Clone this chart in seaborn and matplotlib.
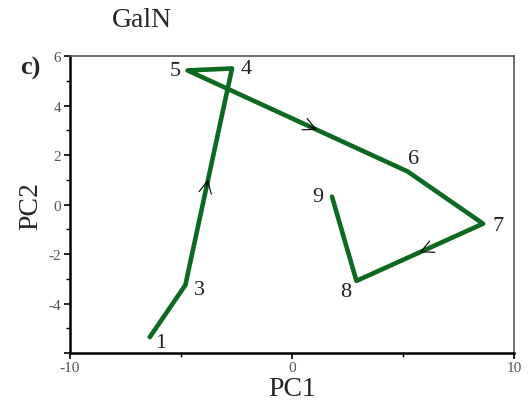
import matplotlib
matplotlib.use("Agg")
import matplotlib.pyplot as plt
import seaborn as sns
import pandas as pd
import numpy as np

labels = ["1", "3", "4", "5", "6", "7", "8", "9"]
pc1 = [-6.4, -4.8, -2.7, -4.7, 5.2, 8.6, 2.9, 1.8]
pc2 = [-5.35, -3.25, 5.5, 5.42, 1.34, -0.77, -3.08, 0.32]
label_offsets = [(8, -4), (10, -3), (10, 0), (-9, 0), (4, 9), (11, -1), (-8, -8), (-10, 0)]
arrow_segments = [(1, 0.5), (3, 0.6), (5, 0.52)]  # (start index, fraction)
xticks = [-10, 0, 10]
xtick_labels = ["-10", "0", "10"]
yticks = [-6, -4, -2, 0, 2, 4, 6]
ytick_labels = ["", "-4", "-2", "0", "2", "4", "6"]

sns.set_style("ticks")
plt.rcParams["font.family"] = ["Liberation Serif", "DejaVu Serif"]

df = pd.DataFrame({"PC1": pc1, "PC2": pc2, "label": labels})

fig = plt.figure(figsize=(5.29, 4.02), dpi=100)
ax = fig.add_axes([0.132, 0.119, 0.84, 0.739])

green = "#0b6a1f"
sns.lineplot(data=df, x="PC1", y="PC2", sort=False, estimator=None,
             color=green, linewidth=3.3, ax=ax)

for lab, x, y, off in zip(labels, pc1, pc2, label_offsets):
    ax.annotate(lab, (x, y), xytext=off, textcoords="offset points",
                ha="center", va="center", fontsize=16, color="#222222")

for i, f in arrow_segments:
    x0, y0 = pc1[i], pc2[i]
    x1, y1 = pc1[i + 1], pc2[i + 1]
    xm, ym = x0 + f * (x1 - x0), y0 + f * (y1 - y0)
    xs, ys = x0 + (f - 0.06) * (x1 - x0), y0 + (f - 0.06) * (y1 - y0)
    ax.annotate("", xy=(xm, ym), xytext=(xs, ys),
                arrowprops=dict(arrowstyle="->,head_length=0.9,head_width=0.45",
                                color="black", lw=0.8))

ax.set_xlim(-10, 10)
ax.set_ylim(-6, 6)
ax.set_xticks(xticks)
ax.set_xticklabels(xtick_labels)
ax.set_yticks(yticks)
ax.set_yticklabels(ytick_labels)
ax.set_xticks([-5, 5], minor=True)
ax.set_yticks([-5, -3, -1, 1, 3, 5], minor=True)
ax.tick_params(axis="both", which="major", length=4, width=1.2, labelsize=11,
               labelcolor="#555555", color="black", pad=2)
ax.tick_params(axis="both", which="minor", length=3, width=1.0, color="black")

for s in ["left", "bottom"]:
    ax.spines[s].set_linewidth(1.8)
    ax.spines[s].set_color("black")
for s in ["top", "right"]:
    ax.spines[s].set_visible(True)
    ax.spines[s].set_linewidth(1.2)
    ax.spines[s].set_color("#555555")

ax.set_xlabel("PC1", fontsize=20, labelpad=1)
ax.set_ylabel("PC2", fontsize=20, labelpad=4)

fig.text(0.268, 0.948, "GalN", fontsize=20, ha="center", va="center")
fig.text(0.057, 0.83, "c)", fontsize=19, ha="center", va="center", fontweight="bold")

fig.savefig("out.png", dpi=100)
